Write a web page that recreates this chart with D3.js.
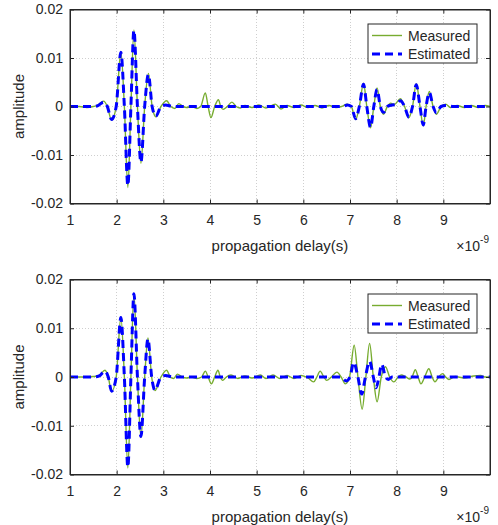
<!DOCTYPE html>
<html><head><meta charset="utf-8">
<script src="https://cdn.jsdelivr.net/npm/d3@7"></script>
<style>
body{margin:0;background:#fff;}
text{font-family:"Liberation Sans",Arial,Helvetica,sans-serif;fill:#262626;}
</style></head>
<body><svg id="chart" width="498" height="525"></svg>
<script>
// ---- data (time in units of 1e-9 s, amplitude) ----
const xTicks = [1,2,3,4,5,6,7,8,9];
const yTicks = [-0.02,-0.01,0,0.01,0.02];
const yTickLabels = ["-0.02","-0.01","0","0.01","0.02"];
const seriesNames = ["Measured","Estimated"];
const xLabel = "propagation delay(s)";
const yLabel = "amplitude";

const topMeasured = [[1.0,0],[1.2,0],[1.36,-0.0002],[1.5,0],[1.6,0.0003],[1.72,0.0011],[1.80,0],[1.89,-0.0028],[1.99,0],[2.09,0.0113],[2.165,0],[2.24,-0.0167],[2.305,0],[2.37,0.0158],[2.445,0],[2.52,-0.0117],[2.60,0],[2.68,0.0068],[2.76,0],[2.84,-0.0021],[2.95,0],[3.07,0.0012],[3.16,0],[3.25,-0.0004],[3.33,0.0006],[3.42,0],[3.5,-0.0002],[3.6,0],[3.72,-0.0004],[3.80,0],[3.90,0.0028],[3.96,0],[4.02,-0.0023],[4.10,0],[4.18,0.0014],[4.23,0],[4.28,-0.0006],[4.37,0],[4.47,0.0009],[4.56,0],[4.65,-0.0003],[4.75,0.0002],[4.9,-0.0002],[5.05,0.0003],[5.2,-0.0003],[5.40,0.0005],[5.52,-0.0005],[5.65,0.0002],[5.8,-0.0002],[5.95,0.0003],[6.1,-0.0002],[6.25,0.0002],[6.4,-0.0003],[6.55,0.0002],[6.7,-0.0002],[6.82,0],[6.94,0.0005],[7.03,0],[7.12,-0.0027],[7.20,0],[7.29,0.0048],[7.36,0],[7.44,-0.0044],[7.51,0],[7.58,0.0038],[7.65,0],[7.72,-0.0016],[7.80,0],[7.87,0.0007],[7.95,0.0004],[8.08,0.0016],[8.17,0],[8.26,-0.0023],[8.34,0],[8.42,0.0047],[8.50,0],[8.57,-0.0040],[8.63,0],[8.70,0.0031],[8.78,0],[8.85,-0.0016],[8.95,0],[9.05,0.0005],[9.15,-0.0002],[9.3,0.0002],[9.45,-0.0002],[9.6,0.0002],[9.75,-0.0002],[9.9,0.0002],[10,0]];

const topEstimated = [[1.0,0],[1.5,0],[1.6,0.0002],[1.72,0.0009],[1.80,0],[1.89,-0.0027],[1.99,0],[2.09,0.0112],[2.165,0],[2.24,-0.0163],[2.305,0],[2.37,0.0157],[2.445,0],[2.52,-0.0115],[2.60,0],[2.68,0.0066],[2.76,0],[2.84,-0.0020],[2.95,0],[3.05,0.0003],[3.2,0],[6.85,0],[6.94,0.0003],[7.03,0],[7.12,-0.0025],[7.20,0],[7.29,0.0046],[7.36,0],[7.44,-0.0043],[7.51,0],[7.58,0.0035],[7.65,0],[7.72,-0.0012],[7.80,0],[7.9,0.0003],[8.0,0.0005],[8.08,0.0012],[8.17,0],[8.26,-0.0022],[8.34,0],[8.42,0.0045],[8.50,0],[8.57,-0.0038],[8.63,0],[8.70,0.0029],[8.78,0],[8.85,-0.0013],[8.95,0],[9.05,0.0002],[9.2,0],[10,0]];

const bottomMeasured = [[1.0,0],[1.3,0],[1.5,0.0001],[1.62,0.0003],[1.75,0.0014],[1.82,0],[1.89,-0.0030],[1.99,0],[2.09,0.0123],[2.165,0],[2.24,-0.0187],[2.305,0],[2.37,0.0172],[2.445,0],[2.52,-0.0124],[2.60,0],[2.67,0.0080],[2.75,0],[2.82,-0.0028],[2.95,0],[3.07,0.0014],[3.15,0],[3.22,-0.0003],[3.30,0.0006],[3.40,0],[3.50,-0.0002],[3.6,0],[3.72,-0.0003],[3.82,0],[3.90,0.0012],[3.96,0],[4.03,-0.0014],[4.10,0],[4.17,0.0014],[4.22,0],[4.27,-0.0007],[4.35,0],[4.45,0.0004],[4.6,-0.0003],[4.75,0.0002],[4.9,-0.0002],[5.08,0.0004],[5.2,-0.0003],[5.35,0.0004],[5.5,-0.0003],[5.65,0.0003],[5.8,-0.0003],[5.95,0.0003],[6.1,-0.0002],[6.22,-0.0010],[6.29,0],[6.36,0.0012],[6.44,0],[6.50,-0.0007],[6.60,0],[6.72,0.0010],[6.81,0],[6.90,-0.0014],[6.99,0],[7.09,0.0065],[7.17,0],[7.26,-0.0066],[7.34,0],[7.42,0.0069],[7.50,0],[7.58,-0.0051],[7.67,0],[7.76,0.0021],[7.85,0],[7.94,-0.0010],[8.03,0],[8.10,0.0004],[8.2,0],[8.28,-0.0004],[8.33,0],[8.40,0.0015],[8.46,0],[8.52,-0.0014],[8.60,0],[8.69,0.0017],[8.76,0],[8.82,-0.0010],[8.90,0],[8.98,0.0007],[9.05,0],[9.12,-0.0005],[9.25,0.0001],[9.45,-0.0002],[9.65,0.0002],[9.8,0.0003],[9.9,0],[10,0]];

const bottomEstimated = [[1.0,0],[1.5,0],[1.62,0.0002],[1.75,0.0012],[1.82,0],[1.89,-0.0029],[1.99,0],[2.09,0.0122],[2.165,0],[2.24,-0.0185],[2.305,0],[2.37,0.0171],[2.445,0],[2.52,-0.0122],[2.60,0],[2.67,0.0078],[2.75,0],[2.82,-0.0027],[2.95,0],[3.05,0.0003],[3.2,0],[6.8,0],[6.92,-0.0008],[7.0,0],[7.08,0.0030],[7.17,0],[7.25,-0.0035],[7.33,0],[7.42,0.0032],[7.50,0],[7.56,-0.0022],[7.62,0],[7.68,0.0026],[7.76,0],[7.82,-0.0005],[7.9,0],[10,0]];

// ---- drawing ----
const svg = d3.select("#chart");
const panels = [
  {top:9.5, bottom:203.5, measured:topMeasured, estimated:topEstimated},
  {top:279.5, bottom:474.5, measured:bottomMeasured, estimated:bottomEstimated}
];
const left = 70, right = 490;
const axisColor = "#262626";

panels.forEach((p, i) => {
  const g = svg.append("g");
  const x = d3.scaleLinear().domain([1,10]).range([left, right]);
  const y = d3.scaleLinear().domain([-0.02,0.02]).range([p.bottom, p.top]);
  const cid = "clip"+i;
  g.append("clipPath").attr("id",cid).append("rect")
    .attr("x",left).attr("y",p.top).attr("width",right-left).attr("height",p.bottom-p.top);

  // grid
  g.append("g").selectAll("line").data(xTicks.concat([10])).join("line")
    .attr("x1",d=>x(d)).attr("x2",d=>x(d)).attr("y1",p.top).attr("y2",p.bottom)
    .attr("stroke","#cfcfcf").attr("stroke-width",1).attr("stroke-dasharray","1,2")
    .attr("shape-rendering","crispEdges");
  g.append("g").selectAll("line").data(yTicks).join("line")
    .attr("y1",d=>y(d)).attr("y2",d=>y(d)).attr("x1",left).attr("x2",right)
    .attr("stroke","#cfcfcf").attr("stroke-width",1).attr("stroke-dasharray","1,2")
    .attr("shape-rendering","crispEdges");

  // lines
  const line = d3.line().x(d=>x(d[0])).y(d=>y(d[1])).curve(d3.curveMonotoneX);
  const lg = g.append("g").attr("clip-path",`url(#${cid})`);
  lg.append("path").datum(p.measured).attr("d",line)
    .attr("fill","none").attr("stroke","#77AC30").attr("stroke-width",1.4);
  lg.append("path").datum(p.estimated).attr("d",line)
    .attr("fill","none").attr("stroke","#0000FF").attr("stroke-width",3)
    .attr("stroke-dasharray","8,5");

  // axes
  const ax = g.append("g").attr("transform",`translate(0,${p.bottom})`)
    .call(d3.axisBottom(x).tickValues(xTicks).tickSizeInner(-4).tickSizeOuter(0).tickPadding(11.5).tickFormat(d3.format("d")));
  const axTop = g.append("g").attr("transform",`translate(0,${p.top})`)
    .call(d3.axisTop(x).tickValues(xTicks).tickSizeInner(-4).tickSizeOuter(0).tickFormat(""));
  const ay = g.append("g").attr("transform",`translate(${left},0)`)
    .call(d3.axisLeft(y).tickValues(yTicks).tickSizeInner(-4).tickSizeOuter(0).tickPadding(7)
      .tickFormat((d,k)=>yTickLabels[k]));
  const ayR = g.append("g").attr("transform",`translate(${right},0)`)
    .call(d3.axisRight(y).tickValues(yTicks).tickSizeInner(-4).tickSizeOuter(0).tickFormat(""));
  [ax,axTop,ay,ayR].forEach(a=>{
    a.select(".domain").attr("stroke",axisColor);
    a.selectAll(".tick line").attr("stroke",axisColor);
    a.selectAll("text").attr("font-size","14px").attr("fill",axisColor)
      .style("font-family","'Liberation Sans',Arial,sans-serif");
  });
  g.append("rect").attr("x",left).attr("y",p.top).attr("width",right-left).attr("height",p.bottom-p.top)
    .attr("fill","none").attr("stroke",axisColor).attr("stroke-width",1);

  // labels
  g.append("text").attr("x",(left+right)/2).attr("y",p.bottom+47).attr("text-anchor","middle")
    .attr("font-size","15px").text(xLabel);
  g.append("text").attr("transform",`translate(24,${(p.top+p.bottom)/2}) rotate(-90)`)
    .attr("text-anchor","middle").attr("font-size","15px").text(yLabel);
  const ex = g.append("text").attr("x",489).attr("y",p.bottom+47).attr("text-anchor","end").attr("font-size","14px");
  ex.append("tspan").text("\u00d710");
  ex.append("tspan").attr("dy",-8).attr("font-size","10px").text("-9");

  // legend
  const lgX = 368, lgY = p.top+14.5, lgW = 109, lgH = 39;
  const leg = g.append("g");
  leg.append("rect").attr("x",lgX).attr("y",lgY).attr("width",lgW).attr("height",lgH)
    .attr("fill","#fff").attr("stroke",axisColor).attr("stroke-width",1);
  const styles = [{c:"#77AC30",w:1.4,da:null},{c:"#0000FF",w:3,da:"8,5"}];
  seriesNames.forEach((n,k)=>{
    const yy = lgY + 11.5 + k*18.5;
    leg.append("line").attr("x1",lgX+4).attr("x2",lgX+34).attr("y1",yy).attr("y2",yy)
      .attr("stroke",styles[k].c).attr("stroke-width",styles[k].w).attr("stroke-dasharray",styles[k].da);
    leg.append("text").attr("x",lgX+40).attr("y",yy+5).attr("font-size","14px").text(n);
  });
});
</script></body></html>
